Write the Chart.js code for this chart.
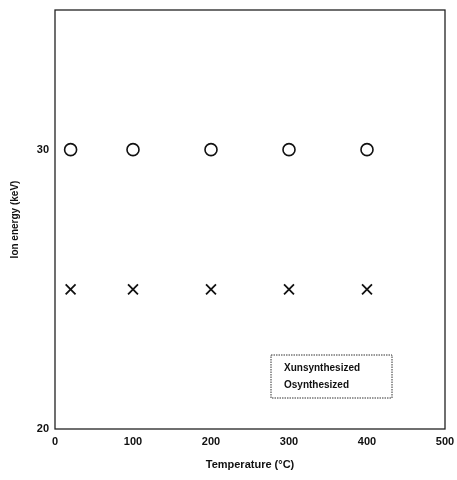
<!DOCTYPE html>
<html><head><meta charset="utf-8">
<script src="https://cdn.jsdelivr.net/npm/chart.js@4"></script>
<style>html,body{margin:0;padding:0;background:#fff}#wrap{width:457px;height:480px}</style>
</head><body><div id="wrap"><canvas id="c" width="457" height="480"></canvas></div>
<script>
const temperatures = [20, 100, 200, 300, 400];
const unsynthesizedEnergy = [25, 25, 25, 25, 25];
const synthesizedEnergy = [30, 30, 30, 30, 30];
const xTicks = [0, 100, 200, 300, 400, 500];
const yTicks = [20, 30];
const seriesNames = ['unsynthesized', 'synthesized'];
const legendMarks = ['X', 'O'];

const toPts = (xs, ys) => xs.map((x, i) => ({x: x, y: ys[i]}));
const FONT = "'Liberation Sans', Arial, sans-serif";

const frameAndLegend = {
  id: 'frameAndLegend',
  afterDraw(chart) {
    const ctx = chart.ctx, a = chart.chartArea;
    ctx.save();
    ctx.strokeStyle = '#222';
    ctx.lineWidth = 1.3;
    ctx.strokeRect(a.left, a.top, a.right - a.left, a.bottom - a.top);
    const bx = 271, by = 355, bw = 121, bh = 43;
    ctx.lineWidth = 1;
    ctx.setLineDash([1.5, 1]);
    ctx.strokeStyle = '#333';
    ctx.strokeRect(bx, by, bw, bh);
    ctx.setLineDash([]);
    ctx.fillStyle = '#111';
    ctx.font = "bold 10px " + FONT;
    ctx.textBaseline = 'middle';
    ctx.textAlign = 'left';
    ctx.fillText(legendMarks[0] + seriesNames[0], bx + 13, by + 13);
    ctx.fillText(legendMarks[1] + seriesNames[1], bx + 13, by + 30);
    ctx.restore();
  }
};

new Chart(document.getElementById('c'), {
  type: 'scatter',
  data: {
    datasets: [
      {label: seriesNames[0], data: toPts(temperatures, unsynthesizedEnergy),
       pointStyle: 'crossRot', pointRadius: 7, borderColor: '#111', borderWidth: 1.8, backgroundColor: 'transparent'},
      {label: seriesNames[1], data: toPts(temperatures, synthesizedEnergy),
       pointStyle: 'circle', pointRadius: 6, borderColor: '#111', borderWidth: 1.6, backgroundColor: 'transparent'}
    ]
  },
  options: {
    responsive: false,
    animation: false,
    layout: {padding: {top: 10, right: 12, left: 5, bottom: 4}},
    plugins: {legend: {display: false}, tooltip: {enabled: false}},
    scales: {
      x: {
        type: 'linear', min: 0, max: 500,
        afterBuildTicks: s => { s.ticks = xTicks.map(v => ({value: v})); },
        grid: {display: false, drawTicks: false},
        border: {display: false},
        ticks: {color: '#111', font: {family: FONT, size: 11, weight: 'bold'}, padding: 6},
        title: {display: true, text: 'Temperature (°C)', color: '#111', font: {family: FONT, size: 11, weight: 'bold'}, padding: {top: 6}},
        afterFit: s => { s.height = 47; s.paddingRight = 0; s.paddingLeft = 0; }
      },
      y: {
        type: 'linear', min: 20, max: 35,
        afterBuildTicks: s => { s.ticks = yTicks.map(v => ({value: v})); },
        grid: {display: false, drawTicks: false},
        border: {display: false},
        ticks: {color: '#111', font: {family: FONT, size: 11, weight: 'bold'}, padding: 6},
        title: {display: true, text: 'Ion energy (keV)', color: '#111', font: {family: FONT, size: 10, weight: 'bold'}, padding: {bottom: 4}},
        afterFit: s => { s.width = 50; s.paddingTop = 0; s.paddingBottom = 0; }
      }
    }
  },
  plugins: [frameAndLegend]
});
</script></body></html>
